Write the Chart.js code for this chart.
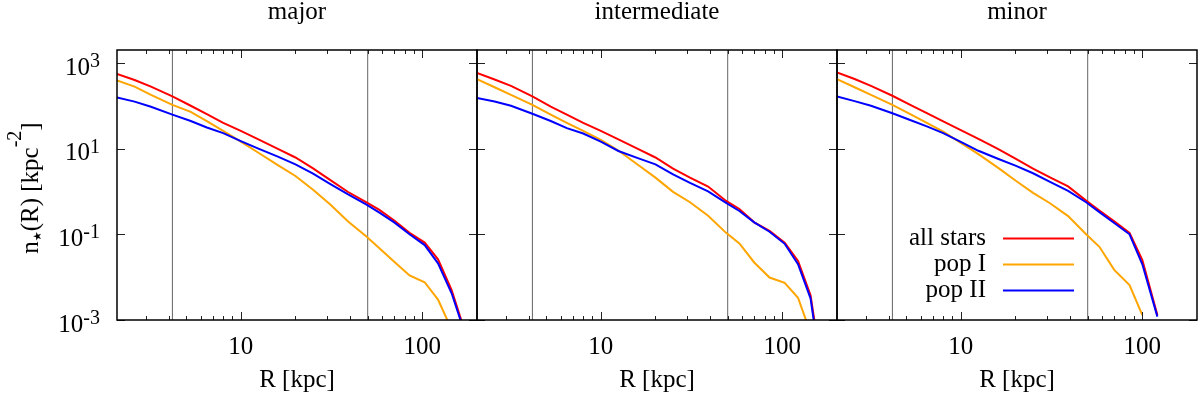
<!DOCTYPE html>
<html>
<head>
<meta charset="utf-8">
<script src="https://cdn.jsdelivr.net/npm/chart.js"></script>
<style>
  html, body { margin: 0; padding: 0; background: #fff; }
  #wrap { position: relative; width: 1200px; height: 399px; }
  #wrap canvas { position: absolute; left: 0; top: 0; }
</style>
</head>
<body>
<div id="wrap">
  <canvas id="major" width="1200" height="399"></canvas>
  <canvas id="intermediate" width="1200" height="399"></canvas>
  <canvas id="minor" width="1200" height="399"></canvas>
</div>
<script>
// n_star(R) profiles in kpc^-2
const rMajor    = [2.08, 2.6, 3.2, 4.2, 5.3, 6.5, 8, 10, 12.5, 16, 20, 25, 31, 39, 49, 58, 70, 85, 103, 122, 145, 165];
const allMajor  = [550, 400, 280, 165, 100, 64, 40, 26, 16.5, 9.8, 6.2, 3.45, 1.87, 0.97, 0.56, 0.37, 0.21, 0.108, 0.064, 0.026, 0.005, 0.0009];
const pop1Major = [390, 280, 180, 105, 72, 44, 26, 14.5, 8, 4.1, 2.3, 1.1, 0.5, 0.2, 0.09, 0.047, 0.023, 0.011, 0.0076, 0.003, 0.0006, null];
const pop2Major = [156, 125, 95, 62, 44, 31, 23, 15, 10, 6.5, 4.3, 2.6, 1.5, 0.85, 0.5, 0.32, 0.19, 0.1, 0.056, 0.021, 0.0042, 0.0008];

const rInter    = [2.08, 2.6, 3.2, 4.2, 5.3, 6.5, 8, 10, 12.5, 16, 20, 25, 31, 39, 49, 58, 70, 85, 103, 122, 143, 155];
const allInter  = [580, 410, 290, 165, 95, 62, 40, 26, 16.5, 9.8, 6.2, 3.4, 2.1, 1.3, 0.6, 0.39, 0.19, 0.12, 0.064, 0.024, 0.0038, 0.0004];
const pop1Inter = [420, 270, 180, 105, 62, 40, 26, 16, 9, 4.2, 2.1, 0.98, 0.56, 0.27, 0.108, 0.061, 0.022, 0.0098, 0.0074, 0.0033, 0.0005, null];
const pop2Inter = [151, 125, 100, 65, 44, 30, 22.5, 14.5, 8.8, 6.0, 4.3, 2.5, 1.58, 1.0, 0.54, 0.35, 0.19, 0.115, 0.06, 0.02, 0.0032, 0.0003];

const rMinor    = [2.08, 2.6, 3.2, 4.2, 5.3, 6.5, 8, 10, 12.5, 16, 20, 25, 31, 39, 49, 58, 70, 85, 100, 121];
const allMinor  = [600, 420, 290, 171, 104, 67, 43, 27, 16.8, 9.8, 5.8, 3.4, 2.12, 1.31, 0.61, 0.36, 0.2, 0.108, 0.025, 0.0013];
const pop1Minor = [420, 270, 180, 105, 63, 40, 25, 13.6, 7.4, 3.6, 1.8, 0.93, 0.53, 0.266, 0.1, 0.051, 0.0148, 0.0065, 0.0013, null];
const pop2Minor = [165, 128, 100, 67, 46, 33, 23, 14.4, 8.9, 5.8, 4.0, 2.66, 1.68, 1.03, 0.56, 0.33, 0.183, 0.1, 0.02, 0.0012];

// vertical marker radii
const rMarkers = [4.2, 50];

// axes
const xMin = 2.08, xMax = 200;
const yMin = 1e-3, yMax = 2000;
const xMajorTicks = [10, 100];
const xMinorTicks = [3, 4, 5, 6, 7, 8, 9, 20, 30, 40, 50, 60, 70, 80, 90, 200];
const yTicks = [1e3, 1e1, 1e-1, 1e-3];
const yTickExp = ['3', '1', '-1', '-3'];
const legendRows = ['all stars', 'pop I', 'pop II'];

const serif = '"Liberation Serif", "Times New Roman", serif';
Chart.defaults.font.family = serif;
Chart.defaults.color = '#000';

const pts = (r, vals) => r.map((v, i) => ({ x: v, y: vals[i] })).filter(p => p.y != null);

// frame with inward ticks on all four sides (gnuplot style)
const panelFrame = {
  id: 'panelFrame',
  afterDatasetsDraw(chart) {
    const { ctx, chartArea: a, scales: { x, y } } = chart;
    ctx.save();
    ctx.strokeStyle = '#222';
    ctx.lineWidth = 1;
    ctx.beginPath();
    const xtick = (v, len) => {
      if (v <= xMin || v >= xMax) return;
      const px = Math.round(x.getPixelForValue(v)) + 0.5;
      ctx.moveTo(px, a.bottom); ctx.lineTo(px, a.bottom - len);
      ctx.moveTo(px, a.top); ctx.lineTo(px, a.top + len);
    };
    xMinorTicks.forEach(v => xtick(v, 4));
    xMajorTicks.forEach(v => xtick(v, 8));
    yTicks.forEach(v => {
      const py = Math.round(y.getPixelForValue(v)) + 0.5;
      ctx.moveTo(a.left, py); ctx.lineTo(a.left + 8, py);
      ctx.moveTo(a.right, py); ctx.lineTo(a.right - 8, py);
    });
    ctx.stroke();
    ctx.strokeStyle = '#000';
    ctx.lineWidth = 1.5;
    ctx.strokeRect(a.left, a.top, a.right - a.left, a.bottom - a.top);
    ctx.restore();
  }
};

// y tick labels 10^n and rotated axis title, first panel only
const yAxisText = {
  id: 'yAxisText',
  afterDraw(chart) {
    const { ctx, chartArea: a, scales: { y } } = chart;
    ctx.save();
    ctx.fillStyle = '#000';
    ctx.textBaseline = 'alphabetic';
    const right = a.left - 17;
    yTicks.forEach((v, i) => {
      const py = y.getPixelForValue(v);
      ctx.font = '20px ' + serif;
      const ew = ctx.measureText(yTickExp[i]).width;
      ctx.textAlign = 'left';
      ctx.fillText(yTickExp[i], right - ew, py + 4);
      ctx.font = '25px ' + serif;
      ctx.textAlign = 'right';
      ctx.fillText('10', right - ew, py + 11.7);
    });

    const pieces = [
      { t: 'n', font: '25px ' + serif, dy: 0 },
      { t: '\u2605', font: '11px "DejaVu Sans"', dy: 3 },
      { t: '(R) [kpc', font: '25px ' + serif, dy: 0 },
      { t: '-2', font: '20px ' + serif, dy: -17 },
      { t: ']', font: '25px ' + serif, dy: 0 }
    ];
    let total = 0;
    pieces.forEach(p => { ctx.font = p.font; p.w = ctx.measureText(p.t).width; total += p.w; });
    ctx.translate(38, (a.top + a.bottom) / 2 + 3);
    ctx.rotate(-Math.PI / 2);
    ctx.textAlign = 'left';
    let cx = -total / 2;
    pieces.forEach(p => {
      ctx.font = p.font;
      ctx.fillText(p.t, cx, p.dy);
      cx += p.w;
    });
    ctx.restore();
  }
};

// key inside the last panel: text right-aligned, line sample after it
const insideLegend = {
  id: 'insideLegend',
  afterDraw(chart) {
    const { ctx, chartArea: a } = chart;
    ctx.save();
    ctx.font = '25px ' + serif;
    ctx.textAlign = 'right';
    ctx.textBaseline = 'middle';
    ctx.fillStyle = '#000';
    legendRows.forEach((name, i) => {
      const ds = chart.data.datasets.find(d => d.label === name);
      const yy = a.top + 188.5 + i * 26;
      ctx.fillText(name, a.left + 149, yy);
      ctx.strokeStyle = ds.borderColor;
      ctx.lineWidth = 2;
      ctx.beginPath();
      ctx.moveTo(a.left + 166, yy);
      ctx.lineTo(a.left + 237, yy);
      ctx.stroke();
    });
    ctx.restore();
  }
};

function makePanel(id, title, r, all, pop1, pop2, left, right, extra) {
  const datasets = [
    { label: 'pop II', data: pts(r, pop2), borderColor: 'rgb(0,0,255)', order: 0 },
    { label: 'pop I', data: pts(r, pop1), borderColor: 'rgb(255,165,0)', order: 1 },
    { label: 'all stars', data: pts(r, all), borderColor: 'rgb(255,0,0)', order: 2 }
  ];
  rMarkers.forEach(v => {
    datasets.push({ label: '', data: [{ x: v, y: yMin }, { x: v, y: yMax }],
      borderColor: 'rgb(100,100,100)', borderWidth: 1, order: 3 });
  });
  datasets.forEach(d => { d.clip = 0; d.pointRadius = 0; d.tension = 0; if (!d.borderWidth) d.borderWidth = 2; d.fill = false; });

  return new Chart(document.getElementById(id), {
    type: 'line',
    data: { datasets: datasets },
    options: {
      responsive: false,
      animation: false,
      devicePixelRatio: 1,
      layout: { padding: { left: left, right: 1200 - right, top: 0, bottom: 0 } },
      plugins: {
        legend: { display: false },
        tooltip: { enabled: false },
        title: {
          display: true,
          text: title,
          color: '#000',
          font: { size: 25, weight: 'normal', lineHeight: 1 },
          padding: { top: 0, bottom: 25 }
        }
      },
      scales: {
        x: {
          type: 'logarithmic',
          min: xMin,
          max: xMax,
          grid: { display: false },
          border: { display: false },
          afterBuildTicks: s => { s.ticks = xMajorTicks.map(v => ({ value: v })); },
          afterFit: s => { s.height = 79; },
          ticks: {
            autoSkip: false,
            maxRotation: 0,
            padding: 4,
            color: '#000',
            font: { size: 25 },
            callback: v => String(v)
          },
          title: {
            display: true,
            text: 'R [kpc]',
            color: '#000',
            font: { size: 25 },
            padding: { top: 0, bottom: 4 }
          }
        },
        y: {
          type: 'logarithmic',
          min: yMin,
          max: yMax,
          display: false
        }
      }
    },
    plugins: [panelFrame].concat(extra)
  });
}

const chartMajor = makePanel('major', 'major', rMajor, allMajor, pop1Major, pop2Major, 117, 477, [yAxisText]);
const chartInter = makePanel('intermediate', 'intermediate', rInter, allInter, pop1Inter, pop2Inter, 477, 837, []);
const chartMinor = makePanel('minor', 'minor', rMinor, allMinor, pop1Minor, pop2Minor, 837, 1197, [insideLegend]);
</script>
</body>
</html>
